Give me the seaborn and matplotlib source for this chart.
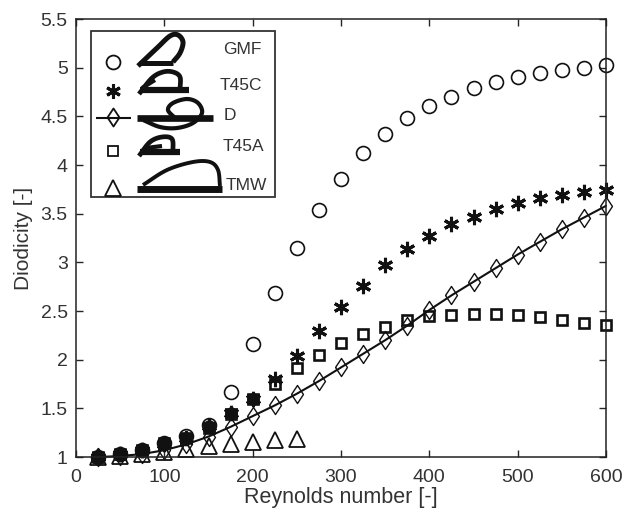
import numpy as np
import matplotlib
matplotlib.use("Agg")
import matplotlib.pyplot as plt
from matplotlib.patches import Rectangle
from matplotlib.lines import Line2D
import seaborn as sns

# Values
reynolds = [25, 50, 75, 100, 125, 150, 175, 200, 225, 250, 275, 300,
            325, 350, 375, 400, 425, 450, 475, 500, 525, 550, 575, 600]
gmf = [1.0, 1.03, 1.07, 1.14, 1.22, 1.33, 1.67, 2.16, 2.69, 3.15, 3.54, 3.86,
       4.12, 4.32, 4.48, 4.61, 4.70, 4.79, 4.85, 4.90, 4.95, 4.98, 5.0, 5.03]
t45c = [1.0, 1.03, 1.07, 1.13, 1.2, 1.32, 1.45, 1.6, 1.8, 2.04, 2.29, 2.54,
        2.76, 2.97, 3.14, 3.27, 3.39, 3.47, 3.55, 3.61, 3.66, 3.69, 3.72, 3.74]
d = [1.0, 1.01, 1.03, 1.07, 1.13, 1.21, 1.31, 1.42, 1.53, 1.65, 1.78, 1.92,
     2.06, 2.2, 2.35, 2.51, 2.66, 2.8, 2.94, 3.08, 3.21, 3.34, 3.46, 3.58]
t45a = [1.0, 1.03, 1.07, 1.14, 1.2, 1.3, 1.44, 1.6, 1.75, 1.91, 2.05, 2.17,
        2.26, 2.34, 2.41, 2.45, 2.46, 2.47, 2.47, 2.46, 2.44, 2.41, 2.38, 2.36]
tmw_re = [25, 50, 75, 100, 125, 150, 175, 200, 225, 250]
tmw = [1.0, 1.01, 1.03, 1.05, 1.08, 1.11, 1.13, 1.15, 1.17, 1.18]
legend_names = ["GMF", "T45C", "D", "T45A", "TMW"]

sns.set_style("ticks")
plt.rcParams["font.family"] = ["Liberation Sans", "DejaVu Sans"]

fig = plt.figure(figsize=(6.22, 5.16), dpi=100)
ax = fig.add_axes([76 / 622, 1 - 457 / 516, 530 / 622, 438 / 516])

grey = "#333333"
black = "#111111"
star = (6, 2, 0)
diamond = [(-0.66, 0), (0, 1), (0.66, 0), (0, -1), (-0.66, 0)]


def plot_series(x, y, marker, size, line=False, mew=1.6, face="none"):
    lines = sns.lineplot(x=x, y=y, ax=ax, color=black, marker=marker,
                         markersize=size, markerfacecolor=face,
                         markeredgecolor=black, markeredgewidth=mew,
                         linewidth=1.5 if line else 0, errorbar=None,
                         estimator=None, sort=False)
    for ln in lines.get_lines():
        ln.set_clip_on(False)


plot_series(reynolds, d, diamond, 13, line=True, mew=1.0)
plot_series(tmw_re, tmw, "^", 11, mew=1.3)
plot_series(reynolds, t45a, "s", 7.5, mew=1.9)
plot_series(reynolds, gmf, "o", 10, mew=1.2)
# low Re the three markers pile up into a solid blob
plot_series(reynolds[:8], t45c[:8], "o", 8.5, mew=0.5, face=black)
plot_series(reynolds, t45c, star, 11, mew=2.2)

ax.set_xlim(0, 600)
ax.set_ylim(1, 5.5)
ax.set_xticks(np.arange(0, 601, 100))
ax.set_yticks(np.arange(1, 5.6, 0.5))
ax.set_yticklabels(["1", "1.5", "2", "2.5", "3", "3.5", "4", "4.5", "5", "5.5"])
ax.tick_params(direction="in", top=True, right=True, length=5, width=1,
               labelsize=14, labelcolor=grey)
ax.tick_params(axis="x", pad=9)
ax.tick_params(axis="y", pad=6)
ax.set_xlabel("Reynolds number [-]", fontsize=15.5, color=grey, labelpad=0)
ax.set_ylabel("Diodicity [-]", fontsize=15, color=grey, labelpad=5)
for s in ax.spines.values():
    s.set_visible(True)
    s.set_linewidth(1.1)
    s.set_color("#222222")

# Legend box with valve sketches, drawn in figure pixels
to_fig = fig.transFigure


def px(x, y):
    return x / 622, 1 - y / 516


def sketch(xs, ys, lw=3.5):
    pts = [px(a, b) for a, b in zip(xs, ys)]
    fig.add_artist(Line2D([p[0] for p in pts], [p[1] for p in pts], color=black,
                          lw=lw, solid_capstyle="butt", solid_joinstyle="round",
                          transform=to_fig, zorder=6))


def smooth(xs, ys, lw=3.0):
    # Catmull-Rom through the hand-picked sketch points
    p = np.column_stack([xs, ys]).astype(float)
    p = np.vstack([2 * p[0] - p[1], p, 2 * p[-1] - p[-2]])
    t = np.linspace(0, 1, 12)[:, None]
    out = []
    for i in range(1, len(p) - 2):
        a, b, c, e = p[i - 1], p[i], p[i + 1], p[i + 2]
        out.append(0.5 * (2 * b + (c - a) * t + (2 * a - 5 * b + 4 * c - e) * t ** 2
                          + (3 * b - a - 3 * c + e) * t ** 3))
    out = np.vstack(out)
    sketch(out[:, 0], out[:, 1], lw=lw)


x0, y0 = px(91, 31)
x1, y1 = px(275, 197)
fig.add_artist(Rectangle((x0, y1), x1 - x0, y0 - y1, transform=to_fig, fc="white",
                         ec="#333333", lw=1.3, zorder=5))

rows = [
    (62, "o", 10, 223, 50),
    (91, star, 10.5, 220, 85),
    (117, diamond, 13, 224, 115),
    (151, "s", 7.5, 223, 146),
    (188, "^", 11, 226, 185),
]
for name, (my, mk, ms, tx, ty) in zip(legend_names, rows):
    mx, mpy = px(113, my)
    mew = 2.2 if mk == star else 1.3
    fig.add_artist(Line2D([mx], [mpy], marker=mk, ms=ms, mfc="none", mec=black,
                          mew=mew, ls="none", transform=to_fig, zorder=6))
    tpx, tpy = px(tx, ty)
    fig.text(tpx, tpy, name, fontsize=12.5, color=grey, va="center", ha="left", zorder=6)

# line through the D legend marker
sketch([96, 131], [118, 118], lw=1.5)

# GMF
sketch([139, 173], [63, 63], lw=3.6)
smooth([138, 157, 170, 178, 183, 180, 173], [66, 48, 36, 35, 42, 53, 62], lw=3.6)
# T45C
sketch([140, 189], [90, 90], lw=4.5)
smooth([139, 152, 163, 173, 180, 180], [94, 78, 72, 72, 77, 90], lw=3.4)
sketch([142, 155], [88, 80], lw=3)
# D
sketch([137, 213], [118, 118], lw=4.8)
smooth([143, 160, 177, 193, 202, 198, 187, 173, 168, 175],
       [120, 127, 128, 123, 113, 103, 99, 103, 110, 118], lw=3.0)
# T45A
sketch([140, 180], [152, 152], lw=4.5)
smooth([139, 150, 162, 172, 173], [156, 142, 137, 139, 152], lw=3.4)
sketch([146, 162], [148, 146], lw=3)
# TMW
sketch([137, 222], [189, 189], lw=5)
smooth([143, 167, 193, 210, 218, 220], [185, 170, 162, 162, 170, 186], lw=2.8)

fig.savefig("out.png", dpi=100)
